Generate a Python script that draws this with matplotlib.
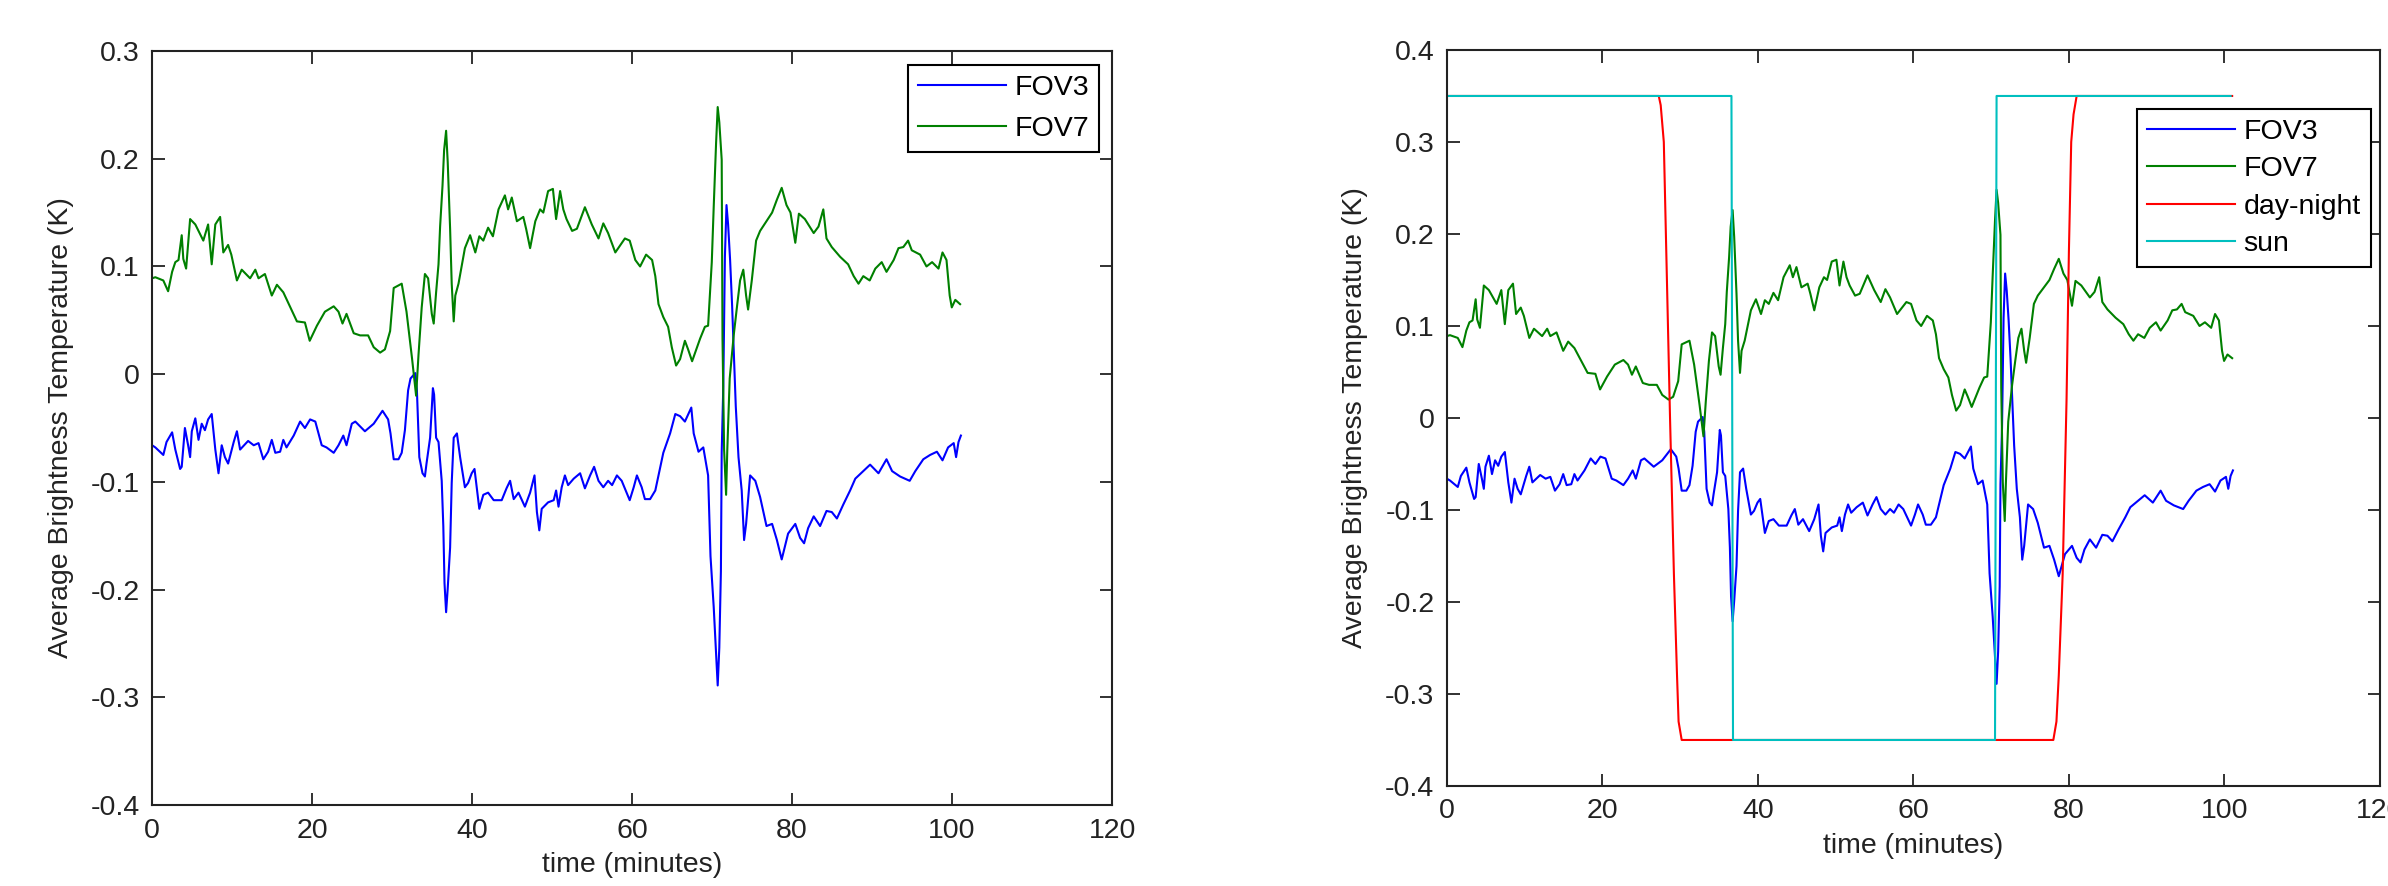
import matplotlib

matplotlib.use("Agg")
import matplotlib.pyplot as plt

plt.rcParams["font.family"] = ["Liberation Sans", "DejaVu Sans"]

# time axis (minutes) and values (K)
fov3_t = [
    0.0, 0.4, 1.4, 1.8, 2.5, 2.9, 3.5, 3.7, 4.1, 4.5, 4.75, 4.96, 5.4, 5.8, 6.2,
    6.6, 7.0, 7.45, 7.9, 8.3, 8.7, 9.1, 9.5, 10.2, 10.6, 11.0, 12.0, 12.7, 13.3,
    13.9, 14.5, 14.96, 15.4, 16.0, 16.4, 16.8, 17.7, 18.5, 19.1, 19.75, 20.4,
    21.2, 21.8, 22.7, 23.3, 23.9, 24.3, 24.96, 25.4, 26.6, 27.7, 28.8, 29.5,
    29.8, 30.2, 30.8, 31.2, 31.6, 32.0, 32.3, 32.9, 33.1, 33.4, 33.8, 34.1,
    34.3, 34.75, 35.1, 35.25, 35.5, 35.8, 36.2, 36.4, 36.55, 36.75, 36.95,
    37.25, 37.45, 37.7, 38.1, 38.5, 39.1, 39.5, 39.95, 40.3, 40.9, 41.4, 42.0,
    42.7, 43.7, 44.3, 44.75, 45.2, 45.8, 46.6, 47.25, 47.8, 48.1, 48.4, 48.7,
    49.5, 50.2, 50.5, 50.8, 51.2, 51.6, 52.0, 52.7, 53.5, 54.1, 54.75, 55.25,
    55.8, 56.4, 57.0, 57.5, 58.1, 58.7, 59.7, 60.2, 60.6, 61.2, 61.6, 62.25,
    62.9, 63.3, 63.9, 64.75, 65.4, 66.0, 66.6, 67.4, 67.7, 68.3, 68.9, 69.5,
    69.8, 70.2, 70.5, 70.7, 70.9, 71.1, 71.2, 71.4, 71.6, 71.8, 72.0, 72.25,
    72.5, 72.75, 72.96, 73.3, 73.7, 74.0, 74.25, 74.75, 75.4, 76.0, 76.8, 77.5,
    78.1, 78.7, 79.5, 80.4, 81.0, 81.5, 82.0, 82.7, 83.5, 84.3, 84.96, 85.6,
    86.4, 87.25, 87.9, 88.9, 89.75, 90.8, 91.8, 92.5, 93.5, 94.7, 95.4, 96.4,
    97.25, 98.1, 98.8, 99.5, 100.2, 100.5, 100.8, 101.1,
]
fov3 = [
    -0.066, -0.068, -0.075, -0.063, -0.054, -0.070, -0.088, -0.086, -0.050,
    -0.066, -0.077, -0.053, -0.041, -0.061, -0.046, -0.052, -0.042, -0.037,
    -0.070, -0.092, -0.066, -0.077, -0.083, -0.063, -0.053, -0.070, -0.062,
    -0.066, -0.064, -0.079, -0.072, -0.061, -0.073, -0.072, -0.061, -0.068,
    -0.057, -0.044, -0.050, -0.042, -0.044, -0.066, -0.068, -0.073, -0.066,
    -0.057, -0.066, -0.046, -0.044, -0.053, -0.046, -0.034, -0.042, -0.055,
    -0.079, -0.079, -0.073, -0.052, -0.015, -0.004, 0.001, -0.015, -0.077,
    -0.092, -0.095, -0.083, -0.059, -0.013, -0.019, -0.059, -0.063, -0.099,
    -0.141, -0.194, -0.221, -0.199, -0.161, -0.101, -0.059, -0.055, -0.077,
    -0.105, -0.101, -0.092, -0.088, -0.125, -0.112, -0.110, -0.117, -0.117,
    -0.106, -0.099, -0.116, -0.110, -0.123, -0.110, -0.094, -0.128, -0.145,
    -0.125, -0.119, -0.117, -0.108, -0.123, -0.105, -0.094, -0.103, -0.097,
    -0.092, -0.106, -0.094, -0.086, -0.099, -0.105, -0.099, -0.103, -0.094,
    -0.099, -0.117, -0.105, -0.094, -0.105, -0.116, -0.116, -0.108, -0.094,
    -0.073, -0.055, -0.037, -0.039, -0.044, -0.031, -0.055, -0.072, -0.068,
    -0.094, -0.169, -0.216, -0.260, -0.289, -0.254, -0.183, -0.072, -0.011,
    0.109, 0.157, 0.139, 0.106, 0.064, 0.014, -0.030, -0.077, -0.108, -0.154,
    -0.139, -0.094, -0.099, -0.114, -0.141, -0.139, -0.154, -0.172, -0.148,
    -0.139, -0.152, -0.157, -0.143, -0.132, -0.141, -0.127, -0.128, -0.134,
    -0.121, -0.108, -0.097, -0.090, -0.084, -0.092, -0.079, -0.090, -0.095,
    -0.099, -0.090, -0.079, -0.075, -0.072, -0.080, -0.068, -0.064, -0.077,
    -0.063, -0.057,
]

fov7_t = [
    0.0, 0.4, 1.4, 2.0, 2.5, 2.9, 3.3, 3.7, 3.9, 4.25, 4.75, 5.4, 6.4, 7.0,
    7.45, 7.9, 8.5, 8.9, 9.5, 9.9, 10.6, 11.2, 12.25, 12.9, 13.3, 14.1, 14.96,
    15.6, 16.4, 18.1, 19.1, 19.7, 20.6, 21.6, 22.7, 23.3, 23.8, 24.3, 25.2,
    26.0, 27.0, 27.7, 28.5, 29.1, 29.75, 30.2, 31.2, 31.8, 32.5, 33.0, 33.3,
    33.7, 34.1, 34.5, 34.96, 35.2, 35.5, 35.8, 36.0, 36.3, 36.5, 36.75, 36.95,
    37.25, 37.45, 37.7, 37.9, 38.3, 39.1, 39.75, 40.4, 40.9, 41.4, 42.0, 42.6,
    43.3, 44.1, 44.5, 44.96, 45.6, 46.4, 46.75, 47.25, 47.9, 48.5, 48.9, 49.5,
    50.1, 50.5, 51.0, 51.4, 51.8, 52.5, 53.1, 54.1, 54.96, 55.8, 56.4, 57.0,
    57.9, 59.1, 59.7, 60.4, 61.0, 61.75, 62.5, 62.9, 63.3, 63.9, 64.5, 64.96,
    65.5, 66.0, 66.6, 67.0, 67.5, 68.5, 69.1, 69.5, 69.96, 70.2, 70.5, 70.7,
    70.9, 71.2, 71.3, 71.5, 71.75, 71.9, 72.2, 72.7, 73.1, 73.5, 73.9, 74.25,
    74.5, 74.96, 75.5, 76.0, 76.8, 77.5, 78.1, 78.7, 79.3, 79.8, 80.4, 80.85,
    81.6, 82.7, 83.3, 83.9, 84.3, 84.96, 86.0, 87.0, 87.7, 88.3, 88.9, 89.7,
    90.4, 91.2, 91.8, 92.7, 93.3, 93.9, 94.5, 94.96, 96.0, 96.8, 97.5, 98.3,
    98.8, 99.3, 99.7, 99.96, 100.4, 101.0,
]
fov7 = [
    0.089, 0.090, 0.087, 0.077, 0.095, 0.104, 0.106, 0.129, 0.107, 0.098,
    0.144, 0.139, 0.124, 0.139, 0.102, 0.139, 0.146, 0.113, 0.120, 0.111,
    0.087, 0.097, 0.089, 0.097, 0.089, 0.093, 0.073, 0.083, 0.076, 0.049,
    0.048, 0.031, 0.045, 0.058, 0.063, 0.058, 0.047, 0.056, 0.038, 0.036,
    0.036, 0.025, 0.020, 0.023, 0.040, 0.080, 0.084, 0.058, 0.014, -0.020,
    0.018, 0.062, 0.093, 0.089, 0.056, 0.047, 0.076, 0.102, 0.137, 0.175,
    0.208, 0.226, 0.197, 0.135, 0.084, 0.049, 0.073, 0.084, 0.117, 0.129,
    0.113, 0.128, 0.124, 0.136, 0.128, 0.153, 0.166, 0.153, 0.164, 0.142,
    0.146, 0.135, 0.117, 0.142, 0.153, 0.150, 0.170, 0.172, 0.144, 0.170,
    0.153, 0.144, 0.133, 0.135, 0.155, 0.139, 0.126, 0.140, 0.131, 0.113,
    0.126, 0.124, 0.106, 0.100, 0.111, 0.106, 0.091, 0.065, 0.053, 0.044,
    0.025, 0.008, 0.014, 0.031, 0.023, 0.012, 0.033, 0.044, 0.045, 0.104,
    0.155, 0.215, 0.248, 0.234, 0.199, 0.033, -0.070, -0.112, -0.070, -0.004,
    0.036, 0.062, 0.087, 0.097, 0.073, 0.060, 0.087, 0.124, 0.133, 0.142,
    0.150, 0.162, 0.173, 0.157, 0.150, 0.122, 0.149, 0.144, 0.131, 0.137,
    0.153, 0.126, 0.118, 0.109, 0.102, 0.091, 0.084, 0.091, 0.087, 0.098,
    0.104, 0.095, 0.106, 0.117, 0.118, 0.124, 0.115, 0.111, 0.100, 0.104,
    0.098, 0.113, 0.106, 0.073, 0.062, 0.069, 0.065,
]

day_night_t = [
    0.0, 27.25, 27.5, 27.9, 28.3, 28.7, 29.2, 29.6, 29.8, 30.2,
    78.0, 78.4, 78.7, 79.2, 79.7, 80.0, 80.3, 80.6, 81.0, 101.0,
]
day_night = [
    0.35, 0.35, 0.34, 0.30, 0.15, 0.0, -0.17, -0.28, -0.33, -0.35,
    -0.35, -0.33, -0.28, -0.17, 0.02, 0.18, 0.30, 0.33, 0.35, 0.35,
]

sun_t = [0.0, 36.6, 36.8, 70.5, 70.7, 100.8]
sun = [0.35, 0.35, -0.35, -0.35, 0.35, 0.35]

x_ticks = [0, 20, 40, 60, 80, 100, 120]
y_ticks_left = [-0.4, -0.3, -0.2, -0.1, 0, 0.1, 0.2, 0.3]
y_labels_left = ["-0.4", "-0.3", "-0.2", "-0.1", "0", "0.1", "0.2", "0.3"]
y_ticks_right = [-0.4, -0.3, -0.2, -0.1, 0, 0.1, 0.2, 0.3, 0.4]
y_labels_right = ["-0.4", "-0.3", "-0.2", "-0.1", "0", "0.1", "0.2", "0.3", "0.4"]

FS = 20.5
LW = 1.5


def style_axes(ax, yticks, ylabels):
    ax.set_xlim(0, 120)
    ax.set_ylim(yticks[0], yticks[-1])
    ax.set_xticks(x_ticks)
    ax.set_xticklabels([str(x) for x in x_ticks])
    ax.set_yticks(yticks)
    ax.set_yticklabels(ylabels)
    ax.tick_params(
        direction="in", length=9, width=1.3, top=True, right=True,
        labelsize=FS, colors="#222222", pad=9,
    )
    for s in ax.spines.values():
        s.set_linewidth(1.5)
        s.set_color("#222222")
    ax.set_xlabel("time (minutes)", fontsize=FS, labelpad=6, color="#222222")
    ax.set_ylabel(
        "Average Brightness Temperature (K)", fontsize=FS, labelpad=12,
        color="#222222",
    )


def make_legend(ax, anchor, spacing):
    leg = ax.legend(
        loc="upper right", bbox_to_anchor=anchor, borderaxespad=0,
        fontsize=FS, frameon=True, fancybox=False, framealpha=1,
        edgecolor="black", handlelength=3.1, handletextpad=0.3,
        labelspacing=spacing, borderpad=0.35,
    )
    leg.get_frame().set_linewidth(1.5)


fig = plt.figure(figsize=(23.88, 8.86), dpi=100)

ax1 = fig.add_axes([0.0637, 0.0914, 0.402, 0.851])
ax1.plot(fov3_t, fov3, color="#0000ff", lw=LW, label="FOV3")
ax1.plot(fov7_t, fov7, color="#008000", lw=LW, label="FOV7")
style_axes(ax1, y_ticks_left, y_labels_left)
make_legend(ax1, (0.9865, 0.981), 0.5)

ax2 = fig.add_axes([0.6059, 0.1129, 0.3907, 0.8307])
ax2.plot(fov3_t, fov3, color="#0000ff", lw=LW, label="FOV3")
ax2.plot(fov7_t, fov7, color="#008000", lw=LW, label="FOV7")
ax2.plot(day_night_t, day_night, color="#ff0000", lw=LW, label="day-night")
ax2.plot(sun_t, sun, color="#00bfbf", lw=LW, label="sun")
style_axes(ax2, y_ticks_right, y_labels_right)
make_legend(ax2, (0.990, 0.920), 0.4)

fig.savefig("out.png", dpi=100)
